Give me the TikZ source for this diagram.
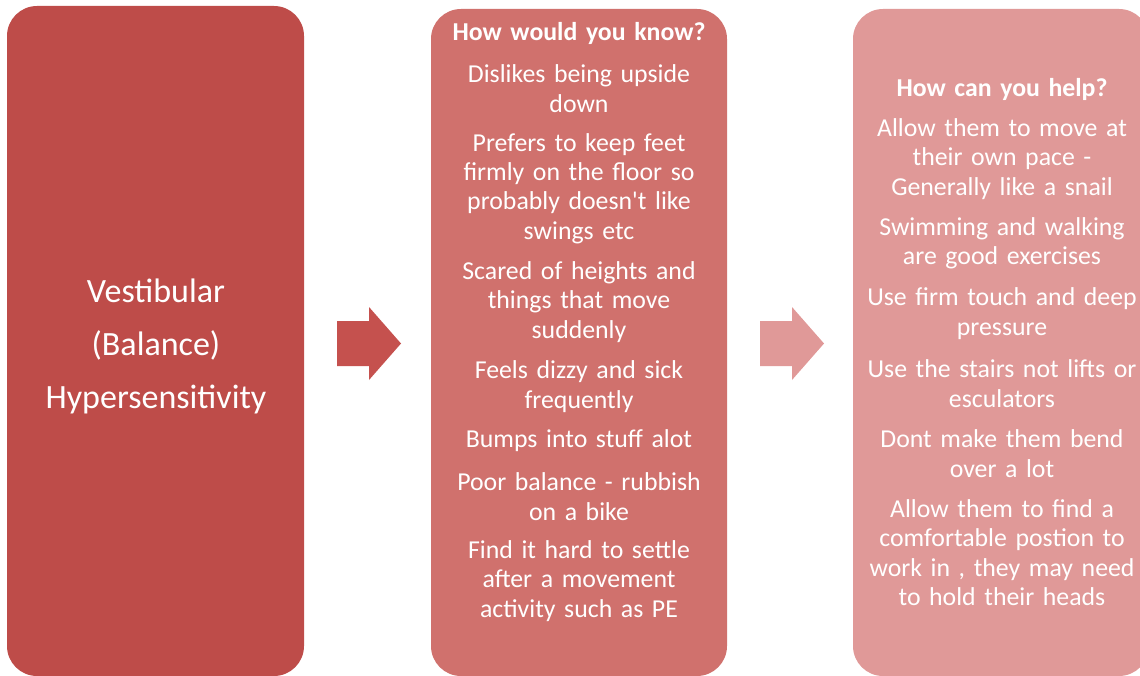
\documentclass[tikz,border=0pt]{standalone}
\usepackage{fontspec}
\setmainfont{Carlito}
\definecolor{boxA}{RGB}{190,76,73}
\definecolor{boxB}{RGB}{208,113,109}
\definecolor{boxC}{RGB}{224,153,152}
\definecolor{arrowA}{RGB}{197,81,78}
\definecolor{arrowB}{RGB}{224,153,152}
\begin{document}
\begin{tikzpicture}[x=1pt,y=-1pt,
  panel/.style={rounded corners=30pt},
  item/.style={text=white,align=center,inner sep=0pt,text width=294pt,
    font=\fontsize{25.8}{29.4}\selectfont},
  heading/.style={item,font=\bfseries\fontsize{25.8}{29.4}\selectfont},
  bigtext/.style={text=white,align=center,inner sep=0pt,text width=294pt,
    font=\fontsize{34}{53}\selectfont}]
\useasboundingbox (0,0) rectangle (1140,676);
\clip (0,0) rectangle (1140,676);
% three panels
\fill[boxA,panel] (7,6) rectangle (304,676);
\fill[boxB,panel] (431,9) rectangle (727,676);
\fill[boxC,panel] (853,9) rectangle (1149,676);
% block arrows between the panels
\fill[arrowA] (337,321) -- (369,321) -- (369,307) -- (401,343.5) -- (369,380) -- (369,366) -- (337,366) -- cycle;
\fill[arrowB] (760,321) -- (792,321) -- (792,307) -- (824,343.5) -- (792,380) -- (792,366) -- (760,366) -- cycle;
% left panel
\node[bigtext] (topic) at (156,346) {Vestibular\\(Balance)\\Hypersensitivity};
% middle panel
\node[heading] (know) at (579,33) {How would you know?};
\node[item] (k1) at (579,88.5) {Dislikes being upside\\down};
\node[item] (k2) at (579,188.5) {Prefers to keep feet\\firmly on the floor so\\probably doesn\textquotesingle t like\\swings etc};
\node[item] (k3) at (579,302) {Scared of heights and\\things that move\\suddenly};
\node[item] (k4) at (579,386.5) {Feels dizzy and sick\\frequently};
\node[item] (k5) at (579,441) {Bumps into stuff alot};
\node[item] (k6) at (579,496.5) {Poor balance - rubbish\\on a bike};
\node[item] (k7) at (579,581) {Find it hard to settle\\after a movement\\activity such as PE};
% right panel
\node[heading] (help) at (1002,89) {How can you help?};
\node[item] (h1) at (1002,159) {Allow them to move at\\their own pace -\\Generally like a snail};
\node[item] (h2) at (1002,243.5) {Swimming and walking\\are good exercises};
\node[item] (h3) at (1002,313.5) {Use firm touch and deep\\pressure};
\node[item] (h4) at (1002,383.5) {Use the stairs not lifts or\\esculators};
\node[item] (h5) at (1002,453.5) {Dont make them bend\\over a lot};
\node[item] (h6) at (1002,552.5) {Allow them to find a\\comfortable postion to\\work in , they may need\\to hold their heads};
\end{tikzpicture}
\end{document}
